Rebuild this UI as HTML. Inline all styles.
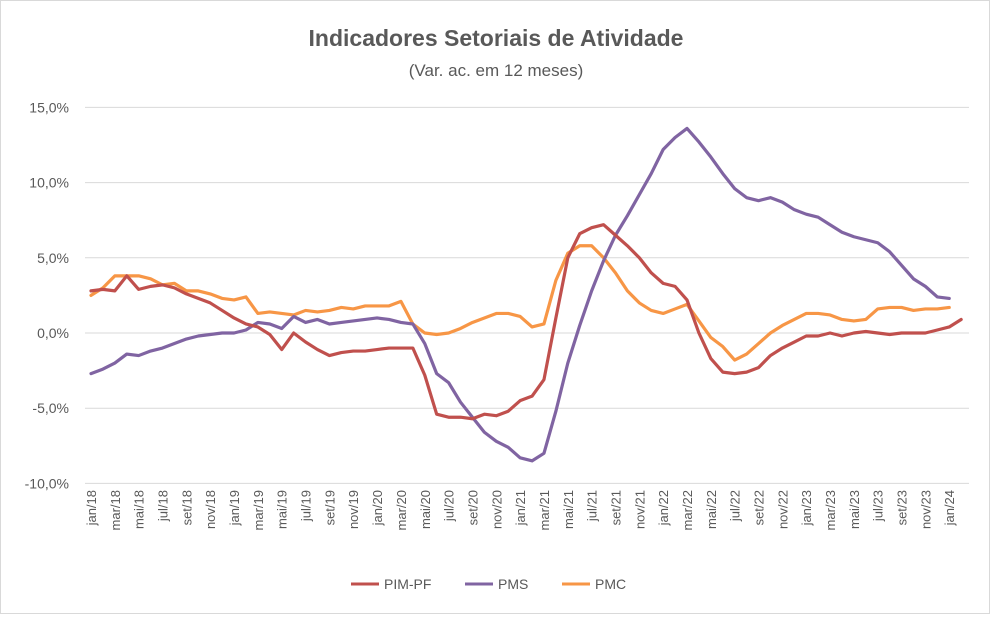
<!DOCTYPE html>
<html><head><meta charset="utf-8"><style>
body{margin:0;background:#fff;font-family:"Liberation Sans",sans-serif;}
#wrap{position:relative;width:990px;height:614px;border:1px solid #d9d9d9;box-sizing:border-box;}
</style></head><body>
<div id="wrap">
<svg id="chart" width="990" height="614">
<text x="495" y="45" text-anchor="middle" font-size="23" font-weight="bold" fill="#595959">Indicadores Setoriais de Atividade</text>
<text x="495" y="75" text-anchor="middle" font-size="17" fill="#595959">(Var. ac. em 12 meses)</text>
<g id="grid"></g><g id="xlabels"></g><g id="lines"></g>
<g>
<line x1="350" y1="583" x2="378" y2="583" stroke="#C0504D" stroke-width="3"/>
<text x="383" y="588" font-size="14" fill="#595959">PIM-PF</text>
<line x1="464" y1="583" x2="492" y2="583" stroke="#8064A2" stroke-width="3"/>
<text x="497" y="588" font-size="14" fill="#595959">PMS</text>
<line x1="561" y1="583" x2="589" y2="583" stroke="#F79646" stroke-width="3"/>
<text x="594" y="588" font-size="14" fill="#595959">PMC</text>
</g>
</svg>
</div>
<script>
const monthNames=["jan","fev","mar","abr","mai","jun","jul","ago","set","out","nov","dez"];
const yTicks=[15,10,5,0,-5,-10];
const pimValues=[2.8,2.9,2.8,3.8,2.9,3.1,3.2,3.0,2.6,2.3,2.0,1.5,1.0,0.6,0.4,-0.1,-1.1,0.0,-0.6,-1.1,-1.5,-1.3,-1.2,-1.2,-1.1,-1.0,-1.0,-1.0,-2.8,-5.4,-5.6,-5.6,-5.7,-5.4,-5.5,-5.2,-4.5,-4.2,-3.1,1.0,5.0,6.6,7.0,7.2,6.5,5.8,5.0,4.0,3.3,3.1,2.2,0.0,-1.7,-2.6,-2.7,-2.6,-2.3,-1.5,-1.0,-0.6,-0.2,-0.2,0.0,-0.2,0.0,0.1,0.0,-0.1,0.0,0.0,0.0,0.2,0.4,0.9];
const pmsValues=[-2.7,-2.4,-2.0,-1.4,-1.5,-1.2,-1.0,-0.7,-0.4,-0.2,-0.1,0.0,0.0,0.2,0.7,0.6,0.3,1.1,0.7,0.9,0.6,0.7,0.8,0.9,1.0,0.9,0.7,0.6,-0.7,-2.7,-3.3,-4.6,-5.6,-6.6,-7.2,-7.6,-8.3,-8.5,-8.0,-5.2,-2.0,0.5,2.8,4.8,6.5,7.8,9.2,10.6,12.2,13.0,13.6,12.7,11.7,10.6,9.6,9.0,8.8,9.0,8.7,8.2,7.9,7.7,7.2,6.7,6.4,6.2,6.0,5.4,4.5,3.6,3.1,2.4,2.3];
const pmcValues=[2.5,3.0,3.8,3.8,3.8,3.6,3.2,3.3,2.8,2.8,2.6,2.3,2.2,2.4,1.3,1.4,1.3,1.2,1.5,1.4,1.5,1.7,1.6,1.8,1.8,1.8,2.1,0.6,0.0,-0.1,0.0,0.3,0.7,1.0,1.3,1.3,1.1,0.4,0.6,3.5,5.3,5.8,5.8,5.0,4.0,2.8,2.0,1.5,1.3,1.6,1.9,0.8,-0.3,-0.9,-1.8,-1.4,-0.7,0.0,0.5,0.9,1.3,1.3,1.2,0.9,0.8,0.9,1.6,1.7,1.7,1.5,1.6,1.6,1.7];
const NS="http://www.w3.org/2000/svg";
const xS=i=>90+i*11.92;
const yS=v=>332-v*15.04;
function mk(t,a,p){const e=document.createElementNS(NS,t);for(const k in a)e.setAttribute(k,a[k]);p.appendChild(e);return e;}
const grid=document.getElementById('grid');
yTicks.forEach(v=>{
  const l=mk('line',{x1:84,x2:968,y1:yS(v),y2:yS(v),stroke:'#d9d9d9','stroke-width':1},grid);
  
  
  const t=mk('text',{x:68,y:yS(v)+5,'text-anchor':'end','font-size':14,fill:'#595959'},grid);
  t.textContent=v.toFixed(1).replace('.',',')+'%';
  
  
});
const xl=document.getElementById('xlabels');
for(let i=0;i<=72;i+=2){
  const lab=monthNames[i%12]+'/'+(18+Math.floor(i/12));
  const x=xS(i)+5,y=489;
  const t=mk('text',{x:x,y:y,'text-anchor':'end','font-size':13,fill:'#595959',transform:`rotate(-90 ${x} ${y})`},xl);
  t.textContent=lab;
  
  
}
const lines=document.getElementById('lines');
[[pmcValues,'#F79646','pmc-line'],[pmsValues,'#8064A2','pms-line'],[pimValues,'#C0504D','pim-pf-line']].forEach(([d,c,n])=>{
  const p=mk('polyline',{points:d.map((v,i)=>xS(i)+','+yS(v)).join(' '),fill:'none',stroke:c,'stroke-width':3.2,'stroke-linejoin':'round','stroke-linecap':'round'},lines);
  
  
});
</script>
</body></html>
